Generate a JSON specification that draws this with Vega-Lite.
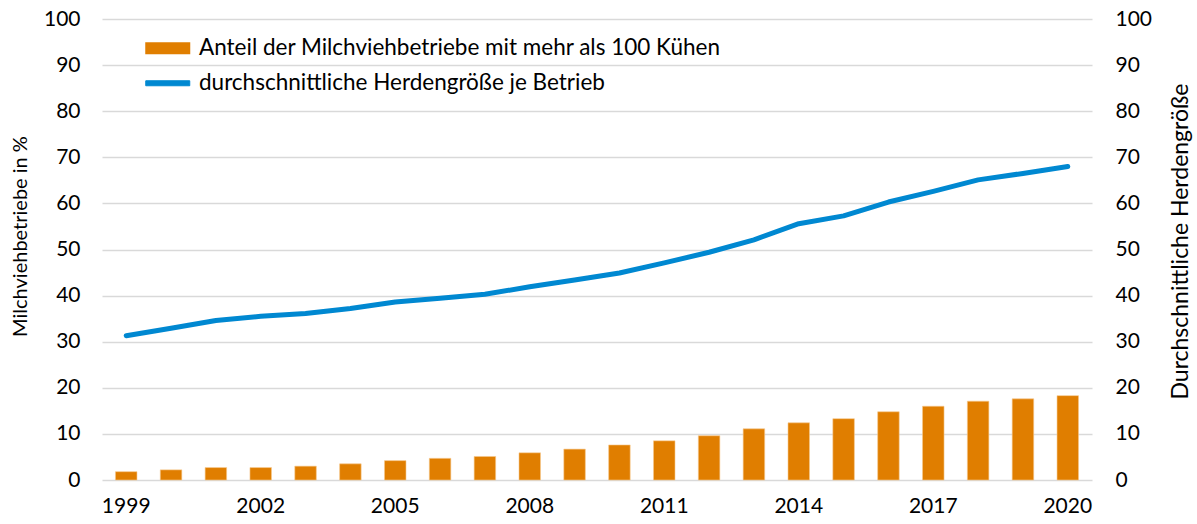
{
  "$schema": "https://vega.github.io/schema/vega-lite/v6.json",
  "autosize": "none",
  "padding": {"left": 102, "top": 19, "right": 105, "bottom": 44},
  "width": 990,
  "height": 461,
  "background": "white",
  "config": {
    "font": "Lato",
    "view": {"stroke": null},
    "axis": {"labelFont": "Lato", "titleFont": "Lato", "labelColor": "#000000", "titleColor": "#000000", "labelFontSize": 21, "titleFontSize": 20, "titleFontWeight": "normal", "domain": false, "ticks": false},
    "legend": {"labelFont": "Lato", "labelFontSize": 22.5, "labelColor": "#000000", "labelLimit": 0}
  },
  "data": {
    "values": [
      {"year": 1999, "anteil": 1.8, "herde": 31.3},
      {"year": 2000, "anteil": 2.2, "herde": 32.9},
      {"year": 2001, "anteil": 2.7, "herde": 34.6},
      {"year": 2002, "anteil": 2.7, "herde": 35.5},
      {"year": 2003, "anteil": 3.0, "herde": 36.1},
      {"year": 2004, "anteil": 3.5, "herde": 37.2},
      {"year": 2005, "anteil": 4.2, "herde": 38.6},
      {"year": 2006, "anteil": 4.7, "herde": 39.4},
      {"year": 2007, "anteil": 5.1, "herde": 40.3},
      {"year": 2008, "anteil": 5.9, "herde": 41.9},
      {"year": 2009, "anteil": 6.7, "herde": 43.4},
      {"year": 2010, "anteil": 7.6, "herde": 44.9},
      {"year": 2011, "anteil": 8.5, "herde": 47.1},
      {"year": 2012, "anteil": 9.6, "herde": 49.4},
      {"year": 2013, "anteil": 11.1, "herde": 52.1},
      {"year": 2014, "anteil": 12.4, "herde": 55.6},
      {"year": 2015, "anteil": 13.3, "herde": 57.3},
      {"year": 2016, "anteil": 14.8, "herde": 60.3},
      {"year": 2017, "anteil": 16.0, "herde": 62.6},
      {"year": 2018, "anteil": 17.1, "herde": 65.1},
      {"year": 2019, "anteil": 17.6, "herde": 66.5},
      {"year": 2020, "anteil": 18.3, "herde": 68.0}
    ]
  },
  "encoding": {
    "x": {
      "field": "year",
      "type": "ordinal",
      "scale": {"paddingInner": 0.52, "paddingOuter": 0.3},
      "axis": {"values": [1999, 2002, 2005, 2008, 2011, 2014, 2017, 2020], "labelAngle": 0, "labelPadding": 15, "title": null, "grid": false}
    }
  },
  "layer": [
    {
      "mark": {"type": "bar", "stroke": "#F6C98F", "strokeWidth": 0.6},
      "encoding": {
        "y": {
          "field": "anteil",
          "type": "quantitative",
          "scale": {"domain": [0, 100]},
          "axis": {"values": [0, 10, 20, 30, 40, 50, 60, 70, 80, 90, 100], "title": "Milchviehbetriebe in %", "titleAngle": 270, "titleX": -82, "titleY": 217, "titleBaseline": "middle", "titleAlign": "center", "labelPadding": 22, "grid": true, "gridColor": "#D9D9D9", "gridWidth": 1.3}
        },
        "color": {
          "datum": "Anteil der Milchviehbetriebe mit mehr als 100 Kühen",
          "type": "nominal",
          "scale": {
            "domain": ["Anteil der Milchviehbetriebe mit mehr als 100 Kühen", "durchschnittliche Herdengröße je Betrieb"],
            "range": ["#E07E00", "#0088D1"]
          },
          "legend": {
            "title": null,
            "orient": "none",
            "legendX": 54.5,
            "legendY": 18,
            "padding": 0,
            "symbolSize": 400,
            "rowPadding": 12,
            "labelOffset": 20,
            "labelLimit": 0,
            "encode": {
              "symbols": {
                "update": {
                  "shape": {"signal": "datum.index == 0 ? 'M-2.25,-0.6H2.25V0.6H-2.25Z' : 'M-2.2,-0.25H2.2V0.25H-2.2Z'"},
                  "fill": {"signal": "datum.index == 0 ? '#E07E00' : '#0088D1'"},
                  "stroke": {"signal": "datum.index == 0 ? 'transparent' : '#0088D1'"},
                  "strokeWidth": {"signal": "datum.index == 0 ? 0 : 1"},
                  "strokeJoin": {"value": "round"},
                  "opacity": {"value": 1},
                  "fillOpacity": {"value": 1}
                }
              }
            }
          }
        }
      }
    },
    {
      "mark": {"type": "line", "strokeWidth": 5, "strokeCap": "round", "strokeJoin": "round"},
      "encoding": {
        "y": {
          "field": "herde",
          "type": "quantitative",
          "scale": {"domain": [0, 100]},
          "axis": {"orient": "right", "values": [0, 10, 20, 30, 40, 50, 60, 70, 80, 90, 100], "title": "Durchschnittliche Herdengröße", "titleFontSize": 23, "titleAngle": 270, "titleX": 88, "titleY": 222, "titleBaseline": "middle", "titleAlign": "center", "labelPadding": 23, "grid": false}
        },
        "color": {
          "datum": "durchschnittliche Herdengröße je Betrieb",
          "type": "nominal",
          "legend": {
            "title": null,
            "orient": "none",
            "legendX": 54.5,
            "legendY": 18,
            "padding": 0,
            "symbolSize": 400,
            "rowPadding": 12,
            "labelOffset": 20,
            "labelLimit": 0,
            "encode": {
              "symbols": {
                "update": {
                  "shape": {"signal": "datum.index == 0 ? 'M-2.25,-0.6H2.25V0.6H-2.25Z' : 'M-2.2,-0.25H2.2V0.25H-2.2Z'"},
                  "fill": {"signal": "datum.index == 0 ? '#E07E00' : '#0088D1'"},
                  "stroke": {"signal": "datum.index == 0 ? 'transparent' : '#0088D1'"},
                  "strokeWidth": {"signal": "datum.index == 0 ? 0 : 1"},
                  "strokeJoin": {"value": "round"},
                  "opacity": {"value": 1},
                  "fillOpacity": {"value": 1}
                }
              }
            }
          }
        }
      }
    }
  ],
  "resolve": {"scale": {"y": "independent"}}
}
